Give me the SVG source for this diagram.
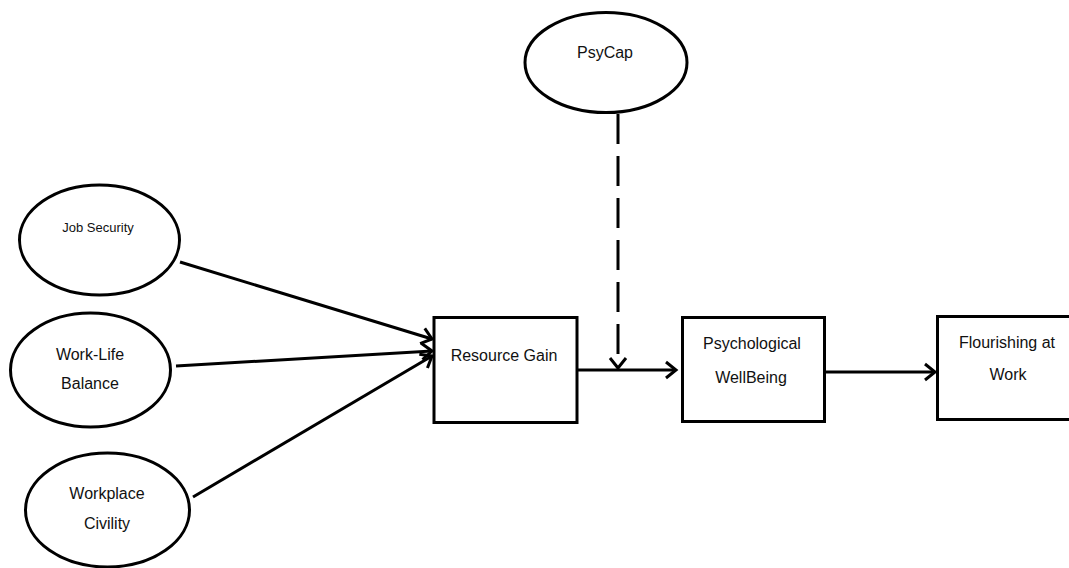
<svg xmlns="http://www.w3.org/2000/svg" width="1069" height="568" viewBox="0 0 1069 568">
<style>
.node{fill:#fff;stroke:#000;stroke-width:3}
.t{font-family:"Liberation Sans",Arial,sans-serif;font-size:16px;fill:#111;text-anchor:middle}
.ts{font-size:13px}
.c{fill:none;stroke:#000;stroke-width:3}
.d{stroke-dasharray:30 12}
</style>
<defs>
<marker id="a" markerUnits="userSpaceOnUse" markerWidth="16" markerHeight="20" refX="13" refY="10" orient="auto" viewBox="0 0 16 20">
<path d="M3,2 L13,10 L3,18" fill="none" stroke="#000" stroke-width="3" stroke-linejoin="miter"/>
</marker>
</defs>
<rect width="1069" height="568" fill="#fff"/>
<g id="connectors">
<line class="c" x1="180" y1="262" x2="432" y2="339" marker-end="url(#a)"/>
<line class="c" x1="176" y1="366" x2="432" y2="351" marker-end="url(#a)"/>
<line class="c" x1="193" y1="497" x2="432" y2="356" marker-end="url(#a)"/>
<line class="c" x1="578" y1="370" x2="676" y2="370" marker-end="url(#a)"/>
<line class="c d" x1="618" y1="114" x2="618" y2="368" marker-end="url(#a)"/>
<line class="c" x1="826" y1="372" x2="935" y2="372" marker-end="url(#a)"/>
</g>
<g id="job-security">
<ellipse class="node" cx="99.5" cy="240" rx="80" ry="55"/>
<text class="t ts" x="98" y="232">Job Security</text>
</g>
<g id="work-life-balance">
<ellipse class="node" cx="90.5" cy="370" rx="80" ry="57"/>
<text class="t" x="90" y="360">Work-Life</text>
<text class="t" x="90" y="389">Balance</text>
</g>
<g id="workplace-civility">
<ellipse class="node" cx="107.5" cy="510" rx="82" ry="57"/>
<text class="t" x="107" y="499">Workplace</text>
<text class="t" x="107" y="529">Civility</text>
</g>
<g id="psycap">
<ellipse class="node" cx="606" cy="62.5" rx="81" ry="50"/>
<text class="t" x="605" y="58">PsyCap</text>
</g>
<g id="resource-gain">
<rect class="node" x="434" y="317.5" width="143" height="105"/>
<text class="t" x="504" y="361">Resource Gain</text>
</g>
<g id="psychological-wellbeing">
<rect class="node" x="682.5" y="317.5" width="142" height="104"/>
<text class="t" x="752" y="349">Psychological</text>
<text class="t" x="751" y="383">WellBeing</text>
</g>
<g id="flourishing">
<rect class="node" x="937.5" y="316.5" width="140" height="103"/>
<text class="t" x="1007" y="348">Flourishing  at</text>
<text class="t" x="1008" y="380">Work</text>
</g>
</svg>
